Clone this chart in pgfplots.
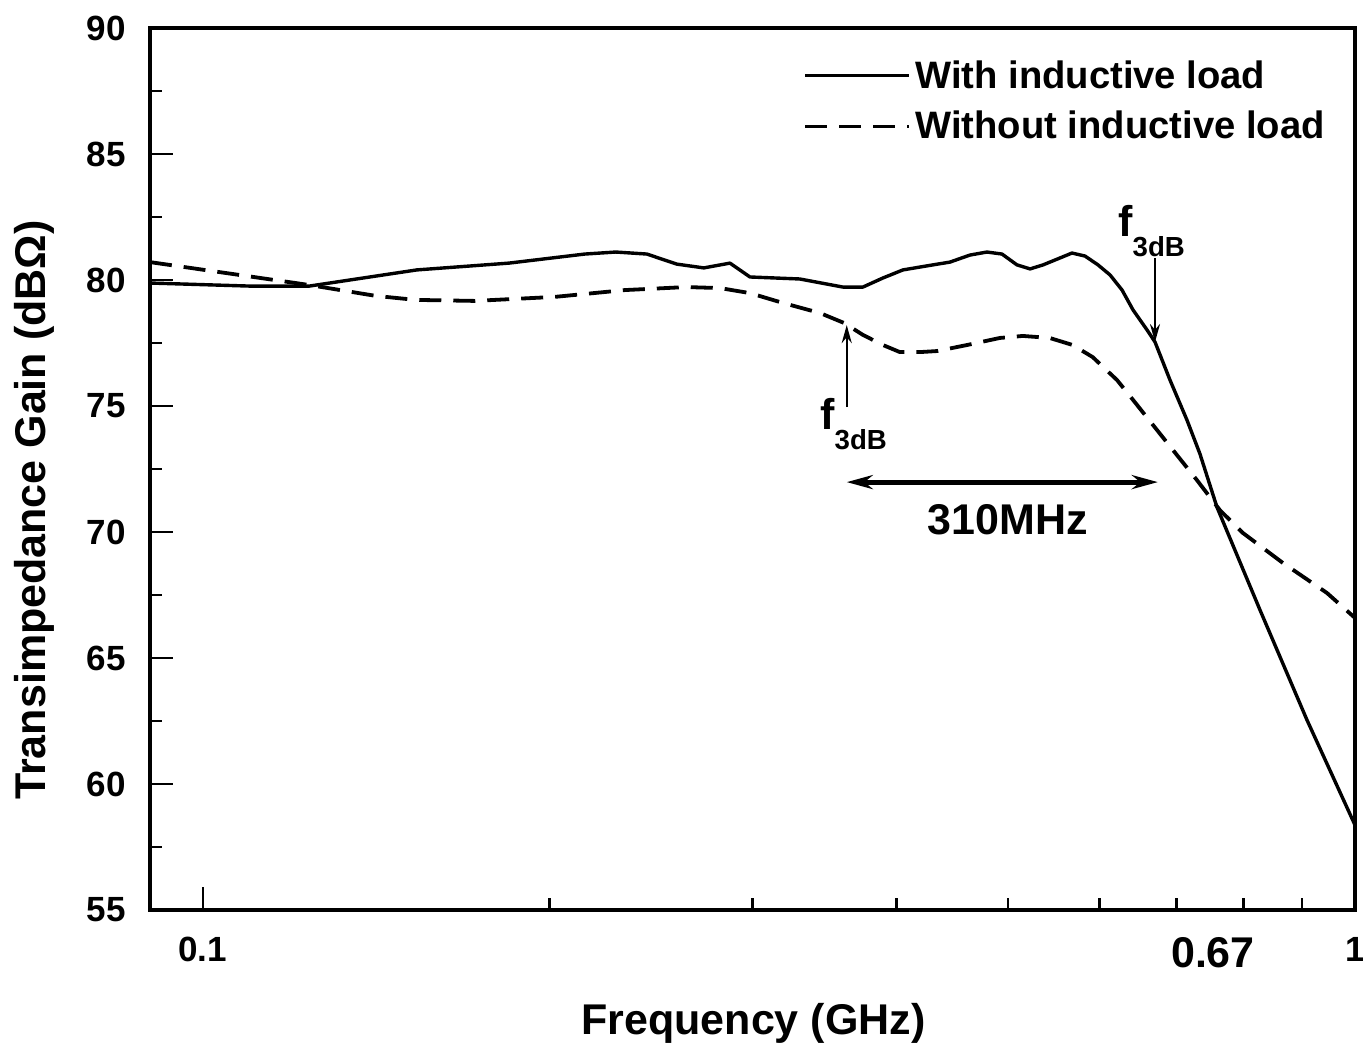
\documentclass[border=0pt]{standalone}
\usepackage{fontspec}
\setmainfont{Liberation Sans}
\usepackage{pgfplots}
\pgfplotsset{compat=1.18}
\usetikzlibrary{arrows.meta}

\newcommand{\bigf}{\fontsize{21.5}{25}\selectfont\bfseries}
\newcommand{\tickf}{\fontsize{17.5}{21}\selectfont\bfseries}
\newcommand{\legf}{\fontsize{19.1}{23}\selectfont\bfseries}

\begin{document}
\begin{tikzpicture}
\path[use as bounding box] (-75pt,-67.5pt) rectangle (606.5pt,455pt);
\begin{axis}[
    name=ax,
    scale only axis, width=602.5pt, height=441pt,
    xmode=log, xmin=0.09, xmax=1,
    ymin=55, ymax=90,
    xtick={0.1,1}, xticklabels={0.1,1},
    minor xtick={0.2,0.3,0.4,0.5,0.6,0.7,0.8,0.9},
    ytick={55,60,...,90},
    minor ytick={57.5,62.5,...,87.5},
    tick pos=left, tick align=inside,
    major tick length=11.5pt, minor tick length=6pt,
    every tick/.style={black, line width=1.2pt},
    axis line style={line width=1.6pt},
    /pgf/number format/assume math mode=true,
    tick label style={font=\tickf},
    xticklabel style={yshift=-10pt},
    yticklabel style={xshift=-8.5pt},
    extra x ticks={0.753}, extra x tick labels={0.67},
    extra x tick style={major tick length=0pt, tick label style={font=\bigf}},
    xlabel={Frequency (GHz)},
    ylabel={Transimpedance Gain (dBΩ)},
    label style={font=\bigf},
    xlabel style={at={(axis description cs:0.5008,-0.1417)}, anchor=base},
    ylabel style={at={(axis description cs:-0.0963,0.4535)}, anchor=center},
    legend style={draw=none, fill=none, at={(1,1)}, anchor=north east,
        xshift=-10pt, yshift=-12pt, font=\legf, row sep=6pt},
    legend cell align=left,
    legend image code/.code={\draw[#1] (0pt,0pt) -- (52pt,0pt);},
]
\addplot[black, line width=1.7pt, line join=round] coordinates {
(0.0900,79.88) (0.1096,79.76) (0.1238,79.76) (0.1534,80.40) (0.1844,80.67)
(0.2146,81.03) (0.2283,81.11) (0.2429,81.03) (0.2579,80.63) (0.2722,80.48)
(0.2868,80.67) (0.2985,80.12) (0.3298,80.04) (0.3594,79.72) (0.3741,79.72)
(0.3894,80.08) (0.4052,80.40) (0.4302,80.60) (0.4451,80.71) (0.4633,80.99)
(0.4793,81.11) (0.4939,81.03) (0.5089,80.60) (0.5224,80.44) (0.5362,80.60)
(0.5681,81.07) (0.5831,80.95) (0.5984,80.60) (0.6130,80.20) (0.6279,79.60)
(0.6418,78.81) (0.6600,78.02) (0.6706,77.54) (0.6910,76.03) (0.7149,74.44)
(0.7337,73.10) (0.7590,70.99) (0.8272,66.90) (0.9085,62.54) (1.0,58.37)
};
\addlegendentry{With inductive load}
\addplot[black, line width=1.9pt, dash pattern=on 11pt off 6pt] coordinates {
(0.0900,80.71) (0.1238,79.80) (0.1413,79.37) (0.1531,79.21) (0.1722,79.17)
(0.2021,79.33) (0.2324,79.60) (0.2627,79.72) (0.2811,79.68) (0.2985,79.48)
(0.3188,79.09) (0.3433,78.69) (0.3605,78.29) (0.3741,77.82) (0.3894,77.42)
(0.4027,77.14) (0.4193,77.14) (0.4337,77.18) (0.4606,77.42) (0.4918,77.70)
(0.5149,77.78) (0.5433,77.70) (0.5689,77.42) (0.5921,76.94) (0.6216,76.03)
(0.6418,75.24) (0.6841,73.65) (0.7292,72.06) (0.7634,70.87) (0.7995,69.96)
(0.8660,68.77) (0.9456,67.58) (1.0,66.59)
};
\addlegendentry{Without inductive load}

\draw[line width=1.2pt, -{Stealth[length=9pt,width=5pt]}] (axis cs:0.6706,80.87) -- (axis cs:0.6706,77.54);
\draw[line width=1.2pt, -{Stealth[length=9pt,width=5pt]}] (axis cs:0.3622,74.96) -- (axis cs:0.3622,78.21);
\draw[line width=2.5pt, {Stealth[length=13pt,width=7pt]}-{Stealth[length=13pt,width=7pt]}] (axis cs:0.3622,71.98) -- (axis cs:0.6745,71.98);
\node[anchor=base west, inner sep=0pt, font=\bigf] at (axis cs:0.6228,81.71) {f\raisebox{-10pt}{\fontsize{13.8}{16}\selectfont\bfseries 3dB}};
\node[anchor=base west, inner sep=0pt, font=\bigf] at (axis cs:0.3433,74.05) {f\raisebox{-10pt}{\fontsize{13.8}{16}\selectfont\bfseries 3dB}};
\node[font=\bigf] at (axis cs:0.4999,70.48) {310MHz};
\end{axis}
\end{tikzpicture}
\end{document}
